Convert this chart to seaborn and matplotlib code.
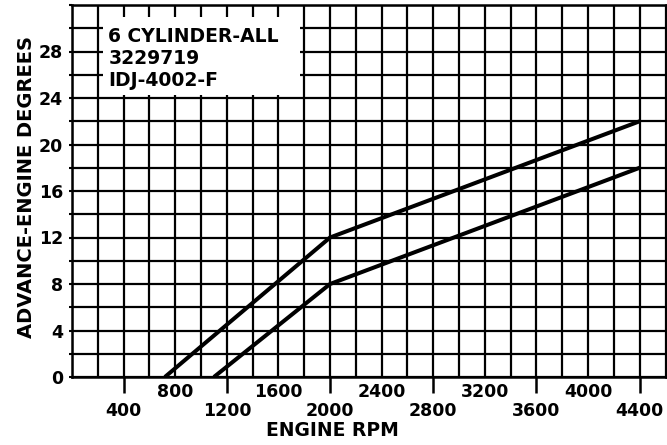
import matplotlib
matplotlib.use("Agg")
import matplotlib.pyplot as plt
from matplotlib.ticker import FixedLocator, MultipleLocator, FuncFormatter, NullFormatter
from matplotlib.patches import Rectangle
import pandas as pd
import seaborn as sns

# Distributor centrifugal advance curve (upper and lower limits)
rpm_upper = [720, 2000, 4400]
adv_upper = [0, 12, 22]
rpm_lower = [1100, 2000, 4400]
adv_lower = [0, 8, 18]

x_major_ticks = [400, 1200, 2000, 2800, 3600, 4400]
x_offset_labels = [800, 1600, 2400, 3200, 4000]
y_tick_values = [0, 4, 8, 12, 16, 20, 24, 28]
spec_lines = ["6 CYLINDER-ALL", "3229719", "IDJ-4002-F"]
x_title = "ENGINE RPM"
y_title = "ADVANCE-ENGINE DEGREES"

sns.set_style("white")
plt.rcParams["font.family"] = ["DejaVu Sans"]
plt.rcParams["font.weight"] = "bold"
for key in ["text.color", "axes.labelcolor", "xtick.color", "ytick.color",
            "xtick.labelcolor", "ytick.labelcolor"]:
    plt.rcParams[key] = "black"

df = pd.concat([
    pd.DataFrame({"rpm": rpm_upper, "advance": adv_upper, "curve": "upper"}),
    pd.DataFrame({"rpm": rpm_lower, "advance": adv_lower, "curve": "lower"}),
])

fig = plt.figure(figsize=(6.67, 4.45), dpi=100)
ax = fig.add_axes([72 / 667, 68 / 445, 593.5 / 667, 372 / 445])

for name, grp in df.groupby("curve", sort=False):
    sns.lineplot(data=grp, x="rpm", y="advance", color="black", lw=2.9,
                 estimator=None, sort=False, ax=ax, legend=False,
                 solid_capstyle="butt", zorder=3)

ax.set_xlim(0, 4600)
ax.set_ylim(0, 32)

# x axis: long ticks with low labels, offset labels higher up without ticks
ax.xaxis.set_major_locator(FixedLocator(x_major_ticks))
ax.xaxis.set_minor_locator(MultipleLocator(200))
ax.xaxis.set_minor_formatter(FuncFormatter(
    lambda v, p: f"{int(round(v))}" if int(round(v)) in x_offset_labels else ""))
ax.tick_params(axis="x", which="major", length=11.5, width=1.8, pad=6.5,
               labelsize=12.5, color="black", labelcolor="black",
               direction="out", bottom=True)
ax.tick_params(axis="x", which="minor", length=0, pad=4.3, labelsize=12.5,
               labelcolor="black", bottom=True)

ax.yaxis.set_major_locator(FixedLocator(y_tick_values))
ax.yaxis.set_minor_locator(MultipleLocator(2))
ax.yaxis.set_minor_formatter(NullFormatter())
ax.tick_params(axis="y", which="both", length=2.5, width=1.5, pad=4,
               labelsize=12.5, color="black", labelcolor="black", left=True)

for lab in ax.get_xticklabels(which="both") + ax.get_yticklabels():
    lab.set_fontweight("bold")

ax.set_axisbelow(True)
ax.grid(which="both", color="black", lw=1.6)

for side in ["left", "bottom", "top", "right"]:
    ax.spines[side].set_visible(True)
    ax.spines[side].set_color("black")
    ax.spines[side].set_linewidth(1.8)

ax.set_xlabel(x_title, fontsize=13.5, fontweight="bold", color="black")
ax.set_ylabel(y_title, fontsize=14, fontweight="bold", color="black")
ax.xaxis.set_label_coords(0.438, -0.118)
ax.yaxis.set_label_coords(-0.06, 0.511)

# white label panel over the grid
ax.add_patch(Rectangle((0.052, 0.758), 0.332, 0.21, transform=ax.transAxes,
                       facecolor="white", edgecolor="none", zorder=1))
ax.text(0.061, 0.94, "\n".join(spec_lines), transform=ax.transAxes,
        ha="left", va="top", fontsize=13.5, fontweight="bold",
        linespacing=1.2, color="black", zorder=4)

fig.savefig("out.png", dpi=100, facecolor="white")
